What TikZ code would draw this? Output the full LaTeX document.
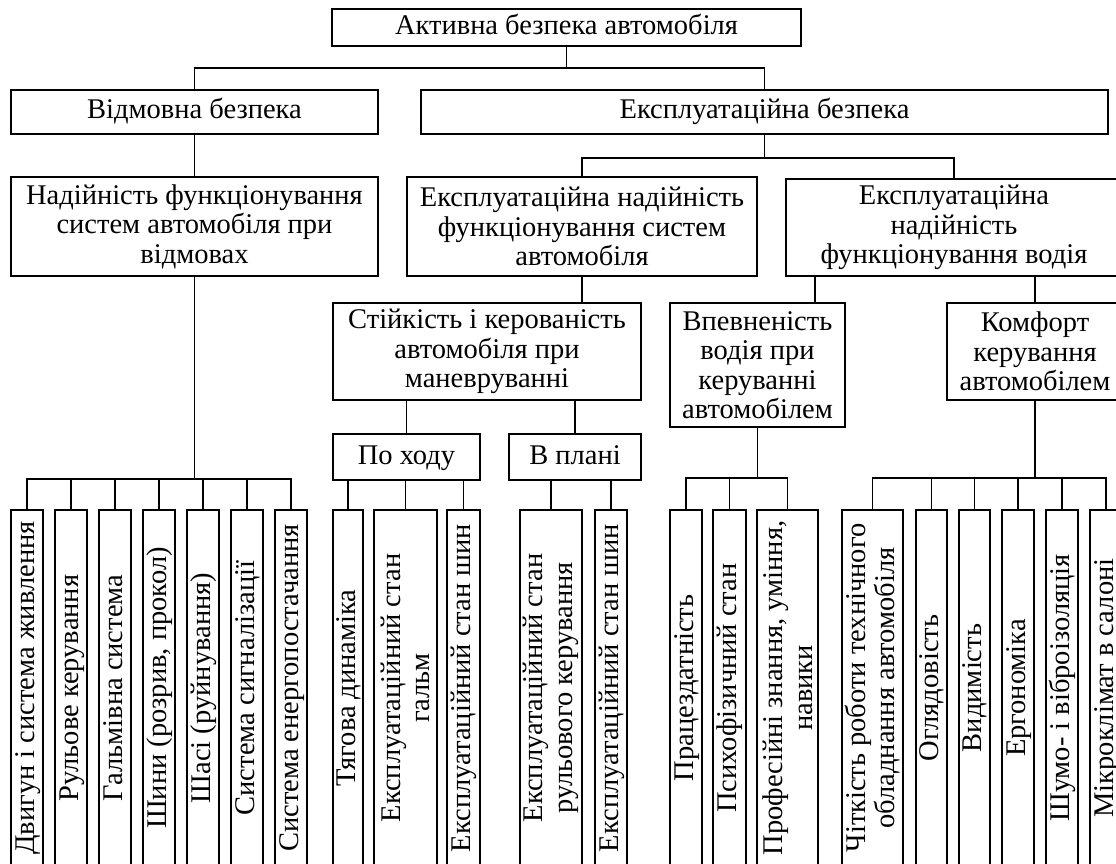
\documentclass[tikz,border=0pt]{standalone}
\usepackage{fontspec}
\setmainfont{Liberation Serif}
\usetikzlibrary{calc}
\begin{document}
\begin{tikzpicture}[x=1pt,y=-1pt,line width=1.8pt,
  box/.style={draw,inner sep=0pt,align=center,font=\fontsize{28.5}{29.5}\selectfont},
  oneline/.style={text height=20pt,text depth=6pt},
  leaf/.style={box,rotate=90,minimum width=356pt}]
\useasboundingbox (0,0) rectangle (1116,864);
\clip (0,0) rectangle (1116,864);
\node[box,oneline,minimum width=469pt,minimum height=37pt] (top) at (566.5,27.5) {Активна безпека автомобіля};
\node[box,oneline,minimum width=367pt,minimum height=44pt] (vidm) at (194.5,112) {Відмовна безпека};
\node[box,oneline,minimum width=687pt,minimum height=44pt] (expl) at (764.5,112) {Експлуатаційна безпека};
\node[box,minimum width=367pt,minimum height=99pt] (nadij) at (194.5,226.5) {Надійність функціонування\\систем автомобіля при\\відмовах};
\node[box,minimum width=350pt,minimum height=99pt] (sys) at (582,226.5) {Експлуатаційна надійність\\функціонування систем\\автомобіля};
\node[box,minimum width=336pt,minimum height=97pt] (driver) at (954,227.5) {Експлуатаційна\\надійність\\функціонування водія};
\node[box,minimum width=308pt,minimum height=97pt] (stiyk) at (487,351.5) {Стійкість і керованість\\автомобіля при\\маневруванні};
\node[box,minimum width=175pt,minimum height=124pt] (vpev) at (757.5,365) {Впевненість\\водія при\\керуванні\\автомобілем};
\node[box,minimum width=176pt,minimum height=97pt] (komf) at (1035,351.5) {Комфорт\\керування\\автомобілем};
\node[box,oneline,minimum width=147pt,minimum height=46pt] (pohodu) at (406.5,457) {По ходу};
\node[box,oneline,minimum width=132pt,minimum height=46pt] (vplani) at (575,457) {В плані};

\foreach \i/\t in {1/Двигун і система живлення,2/Рульове керування,3/Гальмівна система,4/{Шини (розрив, прокол)},5/Шасі (руйнування),6/Система сигналізації,7/Система енергопостачання}
  \node[leaf,oneline,minimum height=32pt] (a\i) at ({27+44*(\i-1)},688) {\t};
\node[leaf,oneline,minimum height=30pt] (b1) at (348,688) {Тягова динаміка};
\node[leaf,minimum height=63pt] (b2) at (405.5,688) {Експлуатаційний стан\\гальм};
\node[leaf,oneline,minimum height=33pt] (b3) at (463.5,688) {Експлуатаційний стан шин};
\node[leaf,minimum height=62pt] (c1) at (551,688) {Експлуатаційний стан\\рульового керування};
\node[leaf,oneline,minimum height=32pt] (c2) at (611,688) {Експлуатаційний стан шин};
\node[leaf,oneline,minimum height=32pt] (d1) at (686,688) {Працездатність};
\node[leaf,oneline,minimum height=33pt] (d2) at (729.5,688) {Психофізичний стан};
\node[leaf,minimum height=61pt] (d3) at (787.5,688) {Професійні знання, уміння,\\навики};
\node[leaf,minimum height=61pt] (e1) at (872.5,688) {Чіткість роботи технічного\\обладнання автомобіля};
\node[leaf,oneline,minimum height=31pt] (e2) at (931.5,688) {Оглядовість};
\node[leaf,oneline,minimum height=31pt] (e3) at (974.5,688) {Видимість};
\node[leaf,oneline,minimum height=32pt] (e4) at (1018,688) {Ергономіка};
\node[leaf,oneline,minimum height=32pt] (e5) at (1062,688) {Шумо- і віброізоляція};
\node[leaf,oneline,minimum height=32pt] (e6) at (1106,688) {Мікроклімат в салоні};

\draw (top.south) -- ++(0,21) coordinate (t1);
\draw (vidm.north) |- (t1) -| (expl.north);
\draw (vidm.south) -- (nadij.north);
\draw (expl.south) -- ++(0,23) coordinate (t2);
\draw (sys.north) |- (t2) -| (driver.north);
\draw (sys.south) -- (sys.south |- stiyk.north);
\draw ([xshift=57.5pt]vpev.north) coordinate (v1) -- (v1 |- driver.south);
\draw (komf.north) -- (komf.north |- driver.south);
\draw (pohodu.north) -- (pohodu.north |- stiyk.south);
\draw (vplani.north) -- (vplani.north |- stiyk.south);

\draw (nadij.south) -- ($(nadij.south |- a1.east)+(0,-30)$);
\draw (a1.east) -- ++(0,-30) -| (a7.east);
\foreach \i in {2,...,6}
  \draw (a\i.east) -- ++(0,-30);
\foreach \n in {b1,b2,b3}
  \draw (\n.east) -- (\n.east |- pohodu.south);
\foreach \n in {c1,c2}
  \draw (\n.east) -- (\n.east |- vplani.south);
\draw (vpev.south) -- ($(vpev.south |- d1.east)+(0,-31)$);
\draw (d1.east) -- ++(0,-31) -| (d3.east);
\draw (d2.east) -- ++(0,-31);
\draw (komf.south) -- ($(komf.south |- e1.east)+(0,-31)$);
\draw (e1.east) -- ++(0,-31) -| (e6.east);
\foreach \i in {2,...,5}
  \draw (e\i.east) -- ++(0,-31);
\end{tikzpicture}
\end{document}
